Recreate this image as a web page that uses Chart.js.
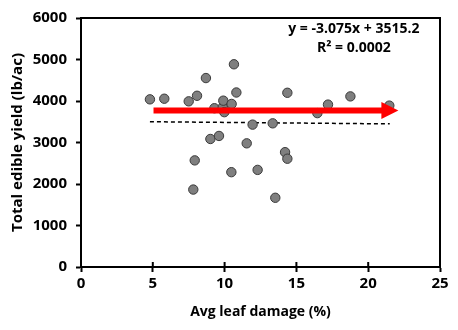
<!DOCTYPE html>
<html>
<head>
<meta charset="utf-8">
<script src="https://cdn.jsdelivr.net/npm/chart.js@4/dist/chart.umd.min.js"></script>
<style>
  html, body { margin: 0; padding: 0; background: #fff; }
  #wrap { width: 458px; height: 330px; }
</style>
</head>
<body>
<div id="wrap"><canvas id="chart"></canvas></div>
<script>
// leaf damage (%) vs total edible yield (lb/ac)
const damage = [4.8, 5.8, 7.5, 8.08, 8.7, 7.92, 7.82, 9.01, 9.29, 9.61, 9.87, 9.91, 9.98, 10.49,
  10.65, 10.82, 11.54, 11.95, 10.47, 12.3, 13.35, 13.53, 14.21, 14.37, 14.37, 16.46, 17.2, 18.76, 21.47];
const yieldLbAc = [4040, 4055, 3992, 4126, 4553, 2569, 1866, 3085, 3826, 3158, 3850, 4008, 3731, 3929,
  4885, 4205, 2980, 3431, 2285, 2340, 3462, 1668, 2767, 2609, 4198, 3708, 3913, 4111, 3889];

// dashed linear fit, end points
const trendX = [4.8, 21.5];
const trendY = [3500, 3449];

// red arrow (start, tip)
const arrowX = [5.05, 22.1];
const arrowY = [3770, 3770];

const xTicks = [0, 5, 10, 15, 20, 25];
const yTicks = [0, 1000, 2000, 3000, 4000, 5000, 6000];

const eqLines = ["y = -3.075x + 3515.2", "R\u00b2 = 0.0002"];
const eqAnchor = [19.0, 5730];

const FONT = "'Open Sans', Lato, sans-serif";

// box round the plot, ticks that cross the x axis, arrow and equation
const extrasPlugin = {
  id: "extras",
  afterDatasetsDraw: (chart) => {
    const ctx = chart.ctx;
    const a = chart.chartArea;
    const xs = chart.scales.x;
    const ys = chart.scales.y;

    ctx.save();
    ctx.strokeStyle = "#000";
    ctx.lineWidth = 2;
    ctx.strokeRect(a.left, a.top, a.right - a.left, a.bottom - a.top);

    xTicks.forEach((v) => {
      const px = xs.getPixelForValue(v);
      ctx.beginPath();
      ctx.moveTo(px, a.bottom);
      ctx.lineTo(px, a.bottom - 5);
      ctx.stroke();
    });

    // arrow
    const x0 = xs.getPixelForValue(arrowX[0]);
    const x1 = xs.getPixelForValue(arrowX[1]);
    const y0 = ys.getPixelForValue(arrowY[0]);
    const y1 = ys.getPixelForValue(arrowY[1]);
    const head = 17;
    ctx.strokeStyle = "#ff0000";
    ctx.fillStyle = "#ff0000";
    ctx.lineWidth = 6;
    ctx.beginPath();
    ctx.moveTo(x0, y0);
    ctx.lineTo(x1 - head + 1, y1);
    ctx.stroke();
    ctx.beginPath();
    ctx.moveTo(x1, y1);
    ctx.lineTo(x1 - head, y1 - 8.5);
    ctx.lineTo(x1 - head, y1 + 8.5);
    ctx.closePath();
    ctx.fill();

    // equation
    ctx.fillStyle = "#000";
    ctx.font = "bold 14px " + FONT;
    ctx.textAlign = "center";
    ctx.textBaseline = "middle";
    const ex = xs.getPixelForValue(eqAnchor[0]);
    const ey = ys.getPixelForValue(eqAnchor[1]);
    ctx.fillText(eqLines[0], ex, ey);
    ctx.fillText(eqLines[1], ex, ey + 19);
    ctx.restore();
  },
};

const points = damage.map((d, i) => ({ x: d, y: yieldLbAc[i] }));
const trend = trendX.map((d, i) => ({ x: d, y: trendY[i] }));

new Chart(document.getElementById("chart").getContext("2d"), {
  type: "scatter",
  data: {
    datasets: [
      {
        label: "Linear fit",
        type: "line",
        data: trend,
        borderColor: "#000",
        borderWidth: 1.5,
        borderDash: [4, 3],
        pointRadius: 0,
        fill: false,
        order: 2,
      },
      {
        label: "Plots",
        data: points,
        backgroundColor: "#7f7f7f",
        borderColor: "#3a3a3a",
        borderWidth: 1,
        pointRadius: 4.7,
        order: 1,
      },
    ],
  },
  options: {
    responsive: true,
    maintainAspectRatio: false,
    animation: false,
    layout: { padding: { left: 0, top: 14, right: 18, bottom: 10 } },
    scales: {
      x: {
        type: "linear",
        min: 0,
        max: 25,
        afterBuildTicks: (scale) => {
          scale.ticks = xTicks.map((v) => ({ value: v }));
        },
        afterFit: (scale) => {
          scale.height = 53;
        },
        border: { display: true, color: "#000", width: 2 },
        grid: { display: true, drawOnChartArea: false, drawTicks: true, tickLength: 5, tickWidth: 2, tickColor: "#000" },
        ticks: {
          color: "#000",
          font: { family: FONT, size: 15, weight: "bold" },
          padding: 3,
          maxRotation: 0,
          callback: (v) => String(v),
        },
        title: {
          display: true,
          text: "Avg leaf damage (%)",
          color: "#000",
          font: { family: FONT, size: 14, weight: "bold" },
          padding: { top: 3, bottom: 0 },
        },
      },
      y: {
        type: "linear",
        min: 0,
        max: 6000,
        afterBuildTicks: (scale) => {
          scale.ticks = yTicks.map((v) => ({ value: v }));
        },
        afterFit: (scale) => {
          scale.width = 81;
        },
        border: { display: true, color: "#000", width: 2 },
        grid: { display: true, drawOnChartArea: false, drawTicks: true, tickLength: 5, tickWidth: 2, tickColor: "#000" },
        ticks: {
          color: "#000",
          font: { family: FONT, size: 15, weight: "bold" },
          padding: 9,
          callback: (v) => String(v),
        },
        title: {
          display: true,
          text: "Total edible yield (lb/ac)",
          color: "#000",
          font: { family: FONT, size: 15, weight: "bold" },
          padding: { top: 9, bottom: 0 },
        },
      },
    },
    plugins: {
      legend: { display: false },
      tooltip: { enabled: false },
    },
  },
  plugins: [extrasPlugin],
});
</script>
</body>
</html>
